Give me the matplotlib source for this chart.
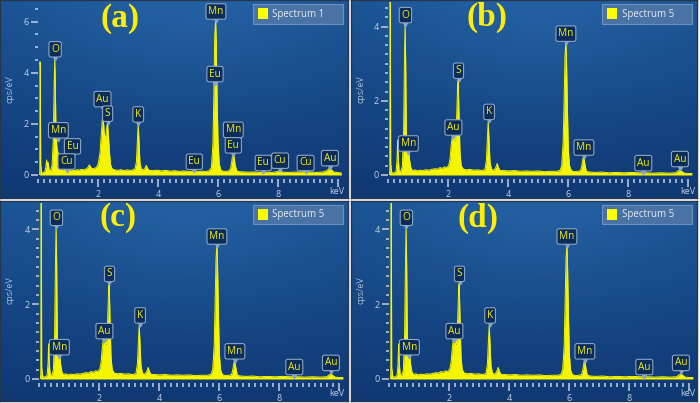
import numpy as np
import matplotlib.pyplot as plt
from matplotlib.patches import Rectangle
from matplotlib.ticker import MultipleLocator
from matplotlib.transforms import offset_copy

plt.rcParams['font.family'] = ['Open Sans', 'DejaVu Sans']

W, H = 700, 403

# Spectrum 1 (panel a): energy (keV) / counts (cps/eV)
spec1_kev = [0.04, 0.05, 0.058, 0.068, 0.08, 0.11, 0.17, 0.22, 0.25, 0.28, 0.30, 0.33, 0.36, 0.41,
             0.46, 0.50, 0.53, 0.55, 0.57, 0.59, 0.62, 0.65, 0.68, 0.71, 0.75, 0.80, 0.85, 0.90,
             0.95, 1.00, 1.06, 1.12, 1.20, 1.28, 1.36, 1.44, 1.52, 1.60, 1.66, 1.70, 1.74, 1.80,
             1.87, 1.94, 2.00, 2.06, 2.10, 2.14, 2.17, 2.20, 2.23, 2.26, 2.29, 2.31, 2.34, 2.37,
             2.41, 2.46, 2.55, 2.65, 2.75, 2.85, 2.95, 3.05, 3.15, 3.22, 3.27, 3.30, 3.33, 3.36,
             3.39, 3.44, 3.50, 3.56, 3.60, 3.64, 3.70, 3.80, 3.95, 4.10, 4.25, 4.40, 4.55, 4.70,
             4.85, 5.00, 5.15, 5.30, 5.45, 5.60, 5.70, 5.77, 5.82, 5.85, 5.88, 5.91, 5.93, 5.96,
             5.99, 6.03, 6.08, 6.15, 6.25, 6.35, 6.41, 6.45, 6.49, 6.52, 6.56, 6.61, 6.70, 6.85,
             7.00, 7.20, 7.40, 7.60, 7.80, 7.95, 8.04, 8.12, 8.30, 8.50, 8.70, 8.90, 9.10, 9.30,
             9.50, 9.62, 9.70, 9.76, 9.84, 9.95, 10.10]
spec1_cps = [0.0, 0.1, 4.43, 4.2, 0.4, 0.08, 0.1, 0.14, 0.3, 0.59, 0.35, 0.5, 0.2, 0.15,
             0.4, 1.4, 3.6, 4.56, 3.3, 1.6, 1.1, 0.9, 0.75, 0.5, 0.3, 0.18, 0.24, 0.2,
             0.17, 0.21, 0.18, 0.2, 0.17, 0.21, 0.19, 0.22, 0.2, 0.24, 0.3, 0.4, 0.32, 0.24,
             0.26, 0.3, 0.45, 0.9, 1.6, 2.3, 2.1, 1.6, 1.45, 1.6, 1.95, 2.0, 1.5, 0.9,
             0.4, 0.24, 0.2, 0.18, 0.21, 0.17, 0.2, 0.18, 0.2, 0.24, 0.5, 1.3, 2.02, 1.2,
             0.45, 0.22, 0.2, 0.28, 0.38, 0.26, 0.18, 0.17, 0.19, 0.16, 0.18, 0.15, 0.17, 0.14,
             0.16, 0.14, 0.15, 0.13, 0.15, 0.14, 0.17, 0.3, 1.2, 3.0, 5.4, 6.06, 5.3, 3.0,
             1.3, 0.45, 0.2, 0.15, 0.14, 0.16, 0.25, 0.55, 0.91, 0.75, 0.4, 0.17, 0.13, 0.12,
             0.11, 0.12, 0.1, 0.11, 0.1, 0.13, 0.17, 0.12, 0.1, 0.11, 0.12, 0.13, 0.11, 0.1,
             0.12, 0.17, 0.26, 0.22, 0.12, 0.1, 0.08]

# Spectrum 5 (panels b, c, d)
spec5_kev = [0.04, 0.05, 0.058, 0.068, 0.08, 0.12, 0.20, 0.26, 0.29, 0.31, 0.33, 0.36, 0.42, 0.47,
             0.51, 0.54, 0.56, 0.58, 0.60, 0.62, 0.65, 0.67, 0.69, 0.71, 0.75, 0.80, 0.88, 0.96,
             1.05, 1.15, 1.25, 1.35, 1.45, 1.55, 1.65, 1.72, 1.80, 1.88, 1.96, 2.02, 2.06, 2.09,
             2.13, 2.17, 2.21, 2.24, 2.28, 2.31, 2.33, 2.36, 2.39, 2.43, 2.50, 2.60, 2.72, 2.85,
             2.98, 3.10, 3.22, 3.27, 3.30, 3.33, 3.36, 3.39, 3.44, 3.52, 3.58, 3.63, 3.67, 3.73,
             3.85, 4.00, 4.20, 4.40, 4.60, 4.80, 5.00, 5.20, 5.40, 5.60, 5.72, 5.78, 5.83, 5.86,
             5.89, 5.92, 5.94, 5.97, 6.00, 6.04, 6.10, 6.20, 6.32, 6.41, 6.45, 6.49, 6.52, 6.55,
             6.60, 6.70, 6.90, 7.10, 7.35, 7.60, 7.85, 8.10, 8.35, 8.60, 8.85, 9.10, 9.35, 9.58,
             9.66, 9.72, 9.78, 9.86, 10.00, 10.12]
spec5_cps = [0.0, 0.2, 5.0, 4.9, 0.3, 0.05, 0.06, 0.1, 0.4, 0.94, 0.5, 0.12, 0.1, 0.25,
             1.2, 3.2, 4.1, 3.0, 1.2, 0.7, 0.58, 0.45, 0.63, 0.4, 0.2, 0.12, 0.14, 0.11,
             0.13, 0.12, 0.14, 0.13, 0.15, 0.17, 0.16, 0.2, 0.18, 0.22, 0.2, 0.28, 0.45, 0.75,
             1.03, 1.08, 0.92, 0.95, 1.6, 2.4, 2.56, 1.5, 0.6, 0.25, 0.16, 0.14, 0.15, 0.13,
             0.14, 0.12, 0.14, 0.4, 0.95, 1.44, 0.9, 0.35, 0.15, 0.13, 0.2, 0.31, 0.2, 0.12,
             0.12, 0.11, 0.12, 0.1, 0.11, 0.1, 0.11, 0.09, 0.1, 0.1, 0.12, 0.25, 0.9, 2.0,
             3.2, 3.6, 3.1, 1.8, 0.7, 0.25, 0.12, 0.09, 0.1, 0.12, 0.25, 0.45, 0.49, 0.3,
             0.1, 0.08, 0.07, 0.08, 0.06, 0.07, 0.06, 0.07, 0.06, 0.06, 0.05, 0.06, 0.05, 0.06,
             0.11, 0.13, 0.1, 0.05, 0.04, 0.04]

# element labels (box centres)
labels1 = ['O', 'Mn', 'Eu', 'Cu', 'Au', 'S', 'K', 'Eu', 'Mn', 'Eu', 'Mn', 'Eu', 'Eu', 'Cu', 'Cu', 'Au']
labels1_kev = [0.56, 0.67, 1.14, 0.94, 2.14, 2.31, 3.33, 5.20, 5.92, 5.89, 6.50, 6.50, 7.50, 8.06, 8.91, 9.72]
labels1_cps = [4.92, 1.75, 1.12, 0.53, 2.97, 2.40, 2.37, 0.52, 6.40, 3.95, 1.77, 1.16, 0.47, 0.56, 0.47, 0.66]

labels5 = ['O', 'Mn', 'Au', 'S', 'K', 'Mn', 'Mn', 'Au', 'Au']
labels5_kev = [0.57, 0.67, 2.17, 2.34, 3.36, 5.92, 6.52, 8.50, 9.72]
labels5_cps = [4.31, 0.85, 1.28, 2.81, 1.70, 3.81, 0.74, 0.32, 0.43]

panel_names = ['(a)', '(b)', '(c)', '(d)']
legend_names = ['Spectrum 1', 'Spectrum 5', 'Spectrum 5', 'Spectrum 5']
x_ticks = [2, 4, 6, 8, 10]
x_ticklabels = ['2', '4', '6', '8', '']

YELLOW = '#f6f500'
TICK = '#c3d0e2'

fig = plt.figure(figsize=(7, 4.03), dpi=100)


def px_axes(l, t, w, h, **kw):
    return fig.add_axes([l / W, 1 - (t + h) / H, w / W, h / H], **kw)


def background(l, t, w, h):
    bg = px_axes(l, t, w, h, zorder=0)
    yy, xx = np.mgrid[0:1:100j, 0:1:160j]
    top = np.array([0.10, 0.32, 0.57])
    bot = np.array([0.06, 0.22, 0.45])
    img = top * (1 - yy[..., None]) + bot * yy[..., None]
    glow = np.exp(-(((xx - 0.55) / 0.45) ** 2 + (yy / 0.6) ** 2))
    img = np.clip(img + glow[..., None] * np.array([0.04, 0.06, 0.07]), 0, 1)
    bg.imshow(img, extent=(0, w, h, 0), aspect='auto', interpolation='bilinear')
    bg.set_xlim(0, w)
    bg.set_ylim(h, 0)
    bg.set_xticks([])
    bg.set_yticks([])
    for s in bg.spines.values():
        s.set_color('#26364c')
        s.set_linewidth(1)
    return bg


# panel rect (px), x of 0 keV, y of 0 cps, px per cps, y max, y minor step, y majors
panels = [
    ((0, 0, 348, 198), 38.3, 175, 25.55, 6.77, 0.5, [0, 2, 4, 6]),
    ((351, 0, 346, 198), 388.3, 175, 37.1, 4.66, 0.25, [0, 2, 4]),
    ((0, 201, 348, 200), 39.3, 379, 37.4, 4.71, 0.25, [0, 2, 4]),
    ((351, 201, 346, 200), 389.3, 379, 37.4, 4.71, 0.25, [0, 2, 4]),
]

for i, (rect, x0, y0, sy, ymax, ystep, yticks) in enumerate(panels):
    l, t, w, h = rect
    bg = background(l, t, w, h)

    if i == 0:
        kev, cps = spec1_kev, spec1_cps
        labs, lk, lc = labels1, labels1_kev, labels1_cps
    else:
        kev, cps = spec5_kev, spec5_cps
        labs, lk, lc = labels5, labels5_kev, labels5_cps

    xmax = 10.15
    ax = px_axes(x0, y0 - ymax * sy, xmax * 30, ymax * sy, zorder=1)
    ax.patch.set_alpha(0)
    ax.fill_between(kev, cps, color=YELLOW, lw=0)
    ax.plot(kev, cps, color=YELLOW, lw=0.7)

    for s, xk, yc in zip(labs, lk, lc):
        ax.text(xk, yc, s, ha='center', va='center', fontsize=7.3, color='#f0ef10', zorder=5,
                bbox=dict(boxstyle='round,pad=0.22,rounding_size=0.2', fc='#0d2c58', ec='#8aa5c6', lw=0.8))
        ax.plot([xk], [yc], marker='v', ms=3.5, color='#8aa5c6', zorder=4, clip_on=False,
                transform=offset_copy(ax.transData, fig=fig, y=-8.5, units='dots'))

    ax.set_xlim(0, xmax)
    ax.set_ylim(0, ymax)
    ax.set_xticks(x_ticks)
    ax.set_xticklabels(x_ticklabels)
    ax.xaxis.set_minor_locator(MultipleLocator(0.2))
    ax.set_yticks(yticks)
    ax.yaxis.set_minor_locator(MultipleLocator(ystep))
    for s in ax.spines.values():
        s.set_visible(False)
    ax.spines['bottom'].set_position(('outward', 3))
    ax.tick_params(axis='x', which='major', direction='out', length=5.5, width=1.1,
                   color=TICK, labelcolor=TICK, labelsize=6.5, pad=2)
    ax.tick_params(axis='x', which='minor', direction='out', length=3, width=1.1, color=TICK)
    ax.tick_params(axis='y', which='major', direction='out', length=4.7, width=1.1,
                   color=TICK, labelcolor=TICK, labelsize=6.5, pad=2)
    ax.tick_params(axis='y', which='minor', direction='out', length=2.5, width=1.1, color=TICK)

    # overlay text in panel pixel coordinates
    bg.text(10, 89, 'cps/eV', rotation=90, ha='center', va='center', fontsize=6.5, color='#a8bbd4')
    bg.text(337, 192, 'keV', ha='center', va='center', fontsize=6.5, color=TICK)
    lab_x = [120, 136, 118, 127][i]
    lab_y = [18, 17, 17, 17][i]
    bg.text(lab_x, lab_y, panel_names[i], ha='center', va='center', fontsize=24, fontweight='bold',
            family='Liberation Serif', color='#ffee00', zorder=6)
    lx = w - 95
    bg.add_patch(Rectangle((lx, 4), 90, 19.5, fc='#4a73a5', ec='#6f90ba', lw=0.8, zorder=5))
    bg.add_patch(Rectangle((lx + 4.5, 8.3), 10, 11, fc='#ffff00', ec='none', zorder=6))
    bg.text(lx + 19.5, 14, legend_names[i], ha='left', va='center', fontsize=7,
            color='#e4ebf4', zorder=6)

fig.savefig('out.png', dpi=100, facecolor='white')
